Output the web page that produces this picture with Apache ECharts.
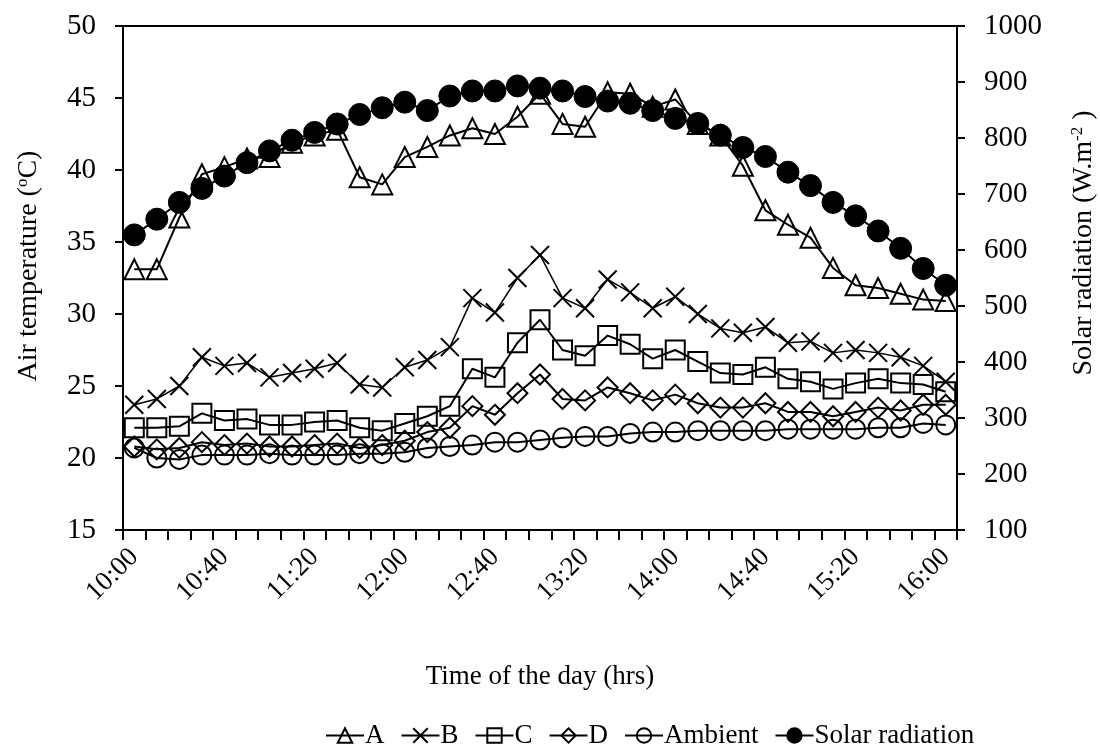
<!DOCTYPE html>
<html><head><meta charset="utf-8">
<script src="https://cdn.jsdelivr.net/npm/echarts@6/dist/echarts.min.js"></script>
<style>html,body{margin:0;padding:0;background:#fff}#c{width:1100px;height:752px}</style>
</head><body><div id="c"></div>
<script>
const times = ["10:00","10:10","10:20","10:30","10:40","10:50","11:00","11:10","11:20","11:30","11:40","11:50","12:00","12:10","12:20","12:30","12:40","12:50","13:00","13:10","13:20","13:30","13:40","13:50","14:00","14:10","14:20","14:30","14:40","14:50","15:00","15:10","15:20","15:30","15:40","15:50","16:00"];
const seriesA = [33.1,33.1,36.7,39.7,40.2,40.8,40.9,41.9,42.4,42.8,39.5,39.0,40.9,41.6,42.4,42.9,42.5,43.7,45.3,43.2,43.0,45.4,45.3,44.4,44.9,43.2,42.4,40.3,37.2,36.2,35.3,33.2,32.0,31.8,31.4,31.0,30.9];
const seriesB = [23.7,24.1,25.0,27.0,26.4,26.6,25.6,25.9,26.2,26.6,25.1,24.9,26.3,26.8,27.7,31.1,30.1,32.5,34.1,31.1,30.4,32.4,31.5,30.4,31.2,30.0,29.0,28.7,29.1,28.0,28.1,27.3,27.5,27.3,27.0,26.4,25.3];
const seriesC = [22.1,22.1,22.2,23.1,22.6,22.7,22.3,22.3,22.5,22.6,22.1,21.9,22.4,22.9,23.6,26.2,25.6,28.0,29.6,27.5,27.1,28.5,27.9,26.9,27.5,26.7,25.9,25.8,26.3,25.5,25.3,24.8,25.2,25.5,25.2,25.1,24.6];
const seriesD = [20.8,20.6,20.7,21.1,20.9,21.0,20.8,20.8,20.9,21.0,20.7,20.9,21.2,21.8,22.1,23.6,23.0,24.5,25.8,24.1,24.0,24.9,24.5,24.0,24.4,23.8,23.5,23.5,23.8,23.2,23.2,22.9,23.2,23.5,23.3,23.7,23.7];
const seriesAmbient = [20.7,20.0,19.9,20.2,20.2,20.2,20.3,20.2,20.2,20.2,20.3,20.3,20.4,20.7,20.8,20.9,21.1,21.1,21.25,21.4,21.5,21.5,21.7,21.8,21.8,21.9,21.9,21.9,21.9,22.0,22.0,22.0,22.0,22.1,22.1,22.4,22.3];
const solarRadiation = [627,655,685,710,732,756,777,796,810,825,842,854,864,849,875,884,884,893,889,884,874,866,862,849,835,826,805,783,767,739,715,685,661,634,603,567,537];

const FONT = 'Liberation Serif';
const crossPath = 'path://M0,0L10,10M10,0L0,10';
function lineSeries(name, data, symbol, size, opts) {
  return Object.assign({
    name, type: 'line', data, yAxisIndex: 0,
    symbol, symbolSize: size, showAllSymbol: true,
    lineStyle: {color: '#000', width: 2},
    itemStyle: {color: 'rgba(255,255,255,0)', borderColor: '#000', borderWidth: 2},
    emphasis: {disabled: true}, animation: false
  }, opts || {});
}
const supStyle = {fontFamily: FONT, fontSize: 17, color: '#000', verticalAlign: 'top', padding: [0,0,12,0]};
const chart = echarts.init(document.getElementById('c'), null, {renderer: 'canvas'});
chart.setOption({
  backgroundColor: '#fff',
  animation: false,
  grid: {left: 123, right: 143, top: 26, bottom: 222, outerBoundsMode: 'none', containLabel: false,
    show: true, borderColor: '#000', borderWidth: 2, backgroundColor: 'transparent'},
  legend: {
    top: 717, left: 320, itemWidth: 38, itemHeight: 18, itemGap: 16,
    textStyle: {fontFamily: FONT, fontSize: 27, color: '#000', padding: [0,0,0,-4]},
    data: ['A','B','C','D','Ambient','Solar radiation']
  },
  xAxis: {
    type: 'category', data: times, boundaryGap: true,
    name: 'Time of the day (hrs)', nameLocation: 'middle', nameGap: 133,
    nameTextStyle: {fontFamily: FONT, fontSize: 27, color: '#000'},
    axisLine: {lineStyle: {color: '#000', width: 2}},
    axisTick: {show: true, interval: 0, length: 10, lineStyle: {color: '#000', width: 2}},
    axisLabel: {interval: 3, rotate: 45, fontFamily: FONT, fontSize: 27, color: '#000', margin: 23},
    splitLine: {show: false}
  },
  yAxis: [{
    type: 'value', min: 15, max: 50, interval: 5, position: 'left',
    name: 'Air temperature ({sup|o}C)', nameLocation: 'middle', nameGap: 80, nameRotate: 90,
    nameTextStyle: {fontFamily: FONT, fontSize: 28, color: '#000', padding: [0,0,0,24], rich: {sup: supStyle}},
    axisLine: {show: true, lineStyle: {color: '#000', width: 2}},
    axisTick: {show: true, length: 8, lineStyle: {color: '#000', width: 2}},
    axisLabel: {fontFamily: FONT, fontSize: 29, color: '#000', margin: 27},
    splitLine: {show: false}
  }, {
    type: 'value', min: 100, max: 1000, interval: 100, position: 'right',
    name: 'Solar radiation (W.m{sup|-2} )', nameLocation: 'middle', nameGap: 112, nameRotate: 90,
    nameTextStyle: {fontFamily: FONT, fontSize: 28, color: '#000', padding: [0,0,0,70], rich: {sup: supStyle}},
    axisLine: {show: true, lineStyle: {color: '#000', width: 2}},
    axisTick: {show: true, length: 8, lineStyle: {color: '#000', width: 2}},
    axisLabel: {fontFamily: FONT, fontSize: 29, color: '#000', margin: 27, formatter: v => String(v)},
    splitLine: {show: false}
  }],
  series: [
    lineSeries('A', seriesA, 'triangle', 20),
    lineSeries('B', seriesB, crossPath, 18, {lineStyle: {color: '#000', width: 1.5}}),
    lineSeries('C', seriesC, 'rect', 19),
    lineSeries('D', seriesD, 'diamond', 20),
    lineSeries('Ambient', seriesAmbient, 'circle', 19),
    lineSeries('Solar radiation', solarRadiation, 'circle', 22, {yAxisIndex: 1,
      itemStyle: {color: '#000', borderColor: '#000', borderWidth: 1}})
  ]
});
</script></body></html>
